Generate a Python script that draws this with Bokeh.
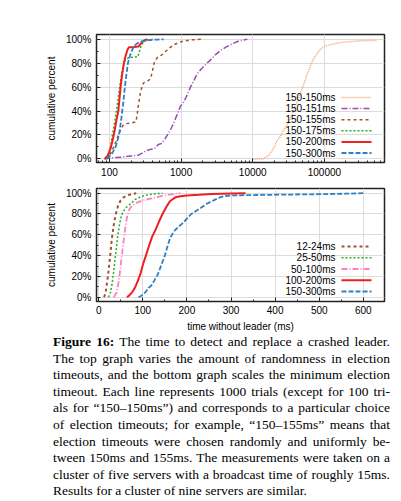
from bokeh.plotting import figure
from bokeh.models import Range1d, LinearScale, FixedTicker, Div
from bokeh.layouts import column
from bokeh.embed import file_html
from bokeh.resources import INLINE
from bokeh.core.properties import value

# ---------------- data ----------------
Y_TICKS = [0, 20, 40, 60, 80, 100]
Y_TICK_LABELS = ["0%", "20%", "40%", "60%", "80%", "100%"]

TOP_X_TICKS = [100, 1000, 10000, 100000]
TOP_X_LABELS = ["100", "1000", "10000", "100000"]
BOT_X_TICKS = [0, 100, 200, 300, 400, 500, 600]
BOT_X_LABELS = ["0", "100", "200", "300", "400", "500", "600"]

TOP_NAMES = ["150-150ms", "150-151ms", "150-155ms", "150-175ms", "150-200ms", "150-300ms"]

t150_150_x = [10000, 13800, 16000, 17700, 20000, 21800, 24400, 27000, 30500, 33700, 37000, 41000,
              46000, 52000, 57000, 61000, 67000, 73000, 81000, 90000, 100000, 120000, 150000,
              200000, 290000, 400000, 550000]
t150_150_y = [0, 0, 2, 5, 10, 15, 19, 24, 29, 34, 40, 47, 55, 63, 70, 75, 81, 85, 89, 92, 94,
              95.5, 96.6, 97.8, 98.6, 99, 99]

t150_151_x = [85, 110, 150, 200, 250, 290, 330, 380, 430, 480, 540, 600, 660, 720, 790, 880, 980,
              1100, 1250, 1350, 1500, 1670, 1900, 2200, 2600, 3000, 3600, 4400, 5300, 6400, 8400]
t150_151_y = [0, 1, 1.5, 2.5, 3, 5, 7, 8, 9, 12, 13, 17, 21, 25, 30, 37, 44, 48, 55, 60, 65, 71,
              75, 79, 83, 87, 91, 94, 96.5, 98.6, 100]

t150_155_x = [88, 100, 115, 130, 145, 155, 175, 200, 235, 245, 255, 270, 290, 305, 340, 375, 400,
              420, 445, 470, 540, 610, 700, 800, 950, 1100, 1400, 1900]
t150_155_y = [0, 3, 10, 18, 25, 28, 29.5, 30, 31, 38, 46, 55, 62, 64, 65, 67, 74, 80, 83, 85, 87,
              90, 93, 95.5, 97.5, 98.6, 99.5, 100]

t150_175_x = [88, 95, 100, 105, 110, 118, 125, 132, 139, 145, 150, 155, 159, 165, 172, 185, 220,
              250, 262, 275, 290, 310, 350, 400]
t150_175_y = [0, 2, 6, 12, 20, 30, 40, 50, 60, 67, 72, 77, 80, 82, 83.5, 84.5, 85, 85.5, 90, 94,
              96.5, 98.5, 99.5, 100]

t150_200_x = [86, 95, 104, 110, 115, 120, 125, 133, 138, 143, 150, 159, 168, 178, 187, 220, 255,
              270, 290, 310, 340]
t150_200_y = [0, 3, 9, 15, 20, 26, 32, 40, 50, 60, 70, 80, 86, 91, 93.3, 93.5, 94, 96, 98, 99.3, 100]

t150_300_x = [92, 100, 110, 122, 136, 144, 151, 158, 164, 172, 181, 195, 204, 215, 227, 250, 272,
              320, 400, 480, 570]
t150_300_y = [0, 2, 5, 10, 20, 30, 40, 50, 60, 70, 80, 87, 90, 93, 95, 97, 98, 99, 99.6, 99.8, 100]

BOT_NAMES = ["12-24ms", "25-50ms", "50-100ms", "100-200ms", "150-300ms"]

b12_24_x = [12, 15, 17, 19, 21, 23, 25, 27, 30, 34, 37, 40, 44, 49, 55, 62, 72, 85]
b12_24_y = [0, 3, 8, 15, 20, 28, 36, 44, 57, 69, 76, 82, 88, 92.5, 95.5, 97.5, 98.8, 100]

b25_50_x = [22, 26, 30, 34, 38, 42, 46, 50, 55, 62, 70, 83, 95, 106, 125, 145]
b25_50_y = [0, 3, 12, 25, 40, 55, 67, 76, 82, 86, 89, 94, 96.5, 98, 99.3, 100]

b50_100_x = [34, 40, 45, 49, 53, 57, 61, 65, 70, 76, 87, 100, 120, 144, 165, 185]
b50_100_y = [0, 4, 14, 27, 42, 56, 69, 79, 85, 88, 91, 93, 95, 97.5, 98.8, 100]

b100_200_x = [64, 70, 76, 82, 88, 95, 100, 107, 113, 121, 129, 137, 147, 155, 162, 174, 185, 200,
              227, 257, 300, 333]
b100_200_y = [0, 2, 5, 9, 15, 23, 31, 40, 48, 58, 65, 73, 82, 88, 92.5, 96, 97, 97.8, 98.4, 99.2,
              99.7, 100]

b150_300_x = [90, 95, 102, 108, 113, 119, 126, 134, 142, 150, 156, 162, 170, 180, 190, 200, 210,
              225, 237, 248, 265, 275, 284, 300, 350, 420, 500, 560, 601]
b150_300_y = [0, 1, 3, 6, 9, 11, 16, 22, 31, 40, 49, 57, 63, 67.5, 71, 75.5, 80, 84, 87.5, 90.5,
              94, 96, 97.2, 97.8, 98.2, 98.6, 99, 99.5, 100]

CAPTION_BOLD = "Figure 16:"
CAPTION_LINES = [
    " The time to detect and replace a crashed leader.",
    "The top graph varies the amount of randomness in election",
    "timeouts, and the bottom graph scales the minimum election",
    "timeout. Each line represents 1000 trials (except for 100 tri-",
    "als for \u201c150\u2013150ms\u201d) and corresponds to a particular choice",
    "of election timeouts; for example, \u201c150\u2013155ms\u201d means that",
    "election timeouts were chosen randomly and uniformly be-",
    "tween 150ms and 155ms. The measurements were taken on a",
    "cluster of five servers with a broadcast time of roughly 15ms.",
    "Results for a cluster of nine servers are similar.",
]

# ---------------- styles ----------------
FONT = "Liberation Sans"
TOP_STYLES = [
    dict(line_color="#f6a271", line_dash="1 1", line_width=1.5),
    dict(line_color="#9b4bb3", line_dash="6 2 1 2", line_width=1.5),
    dict(line_color="#a0522d", line_dash="3 3", line_width=1.5),
    dict(line_color="#25b025", line_dash="2 2", line_width=1.5),
    dict(line_color="#f01e1e", line_dash="solid", line_width=2),
    dict(line_color="#2f7fc1", line_dash="5 2", line_width=1.8),
]
BOT_STYLES = [
    dict(line_color="#a0522d", line_dash="3 3", line_width=2),
    dict(line_color="#25b025", line_dash="2 2", line_width=1.5),
    dict(line_color="#ff7fbf", line_dash="6 2 1 2", line_width=1.8),
    dict(line_color="#f01e1e", line_dash="solid", line_width=2),
    dict(line_color="#2f7fc1", line_dash="5 2", line_width=1.8),
]

W = 393
BL, BR = 96, 9
FW = W - BL - BR
H1, T1, B1 = 182, 34, 20
H2, T2, B2 = 152, 6, 33
FH1 = H1 - T1 - B1
FH2 = H2 - T2 - B2
HC = 166

LEG_TEXT_X = 239
LEG_X0, LEG_X1 = 245, 275


def style_axes(p, xticks, xlabels, minor, x_standoff):
    p.outline_line_color = "#222222"
    p.outline_line_width = 1.5
    p.background_fill_color = "white"
    p.border_fill_color = "white"
    for ax in (p.xaxis[0], p.yaxis[0]):
        ax.axis_line_color = None
        ax.major_tick_in = 4
        ax.major_tick_out = 0
        ax.minor_tick_in = 2
        ax.minor_tick_out = 0
        ax.major_tick_line_color = "#222222"
        ax.minor_tick_line_color = "#222222"
        ax.major_label_text_font = FONT
        ax.major_label_text_font_size = "10px"
        ax.major_label_text_color = "black"
        ax.axis_label_text_font = FONT
        ax.axis_label_text_font_size = "10px"
        ax.axis_label_text_font_style = "normal"
        ax.axis_label_text_color = "black"
    p.xaxis[0].ticker = FixedTicker(ticks=xticks, minor_ticks=minor)
    p.xaxis[0].major_label_overrides = {t: l for t, l in zip(xticks, xlabels)}
    p.xaxis[0].major_label_standoff = x_standoff
    p.yaxis[0].ticker = FixedTicker(ticks=Y_TICKS, minor_ticks=[t + 10 for t in Y_TICKS[:-1]])
    p.yaxis[0].major_label_overrides = {t: l for t, l in zip(Y_TICKS, Y_TICK_LABELS)}
    p.yaxis[0].major_label_standoff = 5
    p.yaxis[0].axis_label = "cumulative percent"
    p.yaxis[0].axis_label_standoff = 6
    p.grid.grid_line_color = "#dcdcdc"
    p.grid.grid_line_width = 1
    p.grid.minor_grid_line_color = None


def add_legend(p, names, styles, fh, top, step):
    p.extra_x_ranges = {"lx": Range1d(0, FW)}
    p.extra_y_ranges = {"ly": Range1d(0, fh)}
    p.extra_x_scales = {"lx": LinearScale()}
    p.extra_y_scales = {"ly": LinearScale()}
    ys = [top - i * step for i in range(len(names))]
    p.text(x=[LEG_TEXT_X] * len(names), y=ys, text=names, text_align="right",
           text_baseline="middle", text_font=value(FONT), text_font_size="10px",
           text_color="black", x_range_name="lx", y_range_name="ly")
    for yy, st in zip(ys, styles):
        p.line([LEG_X0, LEG_X1], [yy, yy], x_range_name="lx", y_range_name="ly", **st)


# ---------------- top figure ----------------
p1 = figure(width=W, height=H1, x_axis_type="log", x_range=Range1d(66, 690000),
            y_range=Range1d(-3, 104), output_backend="svg", toolbar_location=None,
            min_border_left=BL, min_border_right=BR, min_border_top=T1, min_border_bottom=B1)
top_minor = [m * 10 ** k for k in range(1, 6) for m in range(2, 10)]
style_axes(p1, TOP_X_TICKS, TOP_X_LABELS, top_minor, 5)
top_series = [(t150_150_x, t150_150_y), (t150_151_x, t150_151_y), (t150_155_x, t150_155_y),
              (t150_175_x, t150_175_y), (t150_200_x, t150_200_y), (t150_300_x, t150_300_y)]
for (xs, ys), st in zip(top_series, TOP_STYLES):
    p1.line(xs, ys, **st)
add_legend(p1, TOP_NAMES, TOP_STYLES, FH1, 65, 11.1)

# ---------------- bottom figure ----------------
p2 = figure(width=W, height=H2, x_range=Range1d(-5, 648), y_range=Range1d(-4.1, 104.5),
            output_backend="svg", toolbar_location=None,
            min_border_left=BL, min_border_right=BR, min_border_top=T2, min_border_bottom=B2)
style_axes(p2, BOT_X_TICKS, BOT_X_LABELS, [50 + 100 * i for i in range(6)], 4)
p2.xaxis[0].axis_label = "time without leader (ms)"
p2.xaxis[0].axis_label_standoff = 4
bot_series = [(b12_24_x, b12_24_y), (b25_50_x, b25_50_y), (b50_100_x, b50_100_y),
              (b100_200_x, b100_200_y), (b150_300_x, b150_300_y)]
for (xs, ys), st in zip(bot_series, BOT_STYLES):
    p2.line(xs, ys, **st)
add_legend(p2, BOT_NAMES, BOT_STYLES, FH2, 55, 11.25)

# ---------------- caption ----------------
rows = []
for i, line in enumerate(CAPTION_LINES):
    align = "left" if i == len(CAPTION_LINES) - 1 else "justify"
    content = ("<b>" + CAPTION_BOLD + "</b>" + line) if i == 0 else line
    rows.append('<div style="text-align:%s;text-align-last:%s;height:16.6px;line-height:16.6px;">%s</div>'
                % (align, align, content))
html = ('<div style="width:337px;margin-left:53px;font-family:\'Liberation Serif\';'
        'font-size:13.5px;color:#000;">' + "".join(rows) + "</div>")
caption = Div(text=html, width=W, height=HC, margin=(0, 0, 0, 0))

layout = column(p1, p2, caption, spacing=0)
open("out.html", "w").write(file_html(layout, INLINE))
